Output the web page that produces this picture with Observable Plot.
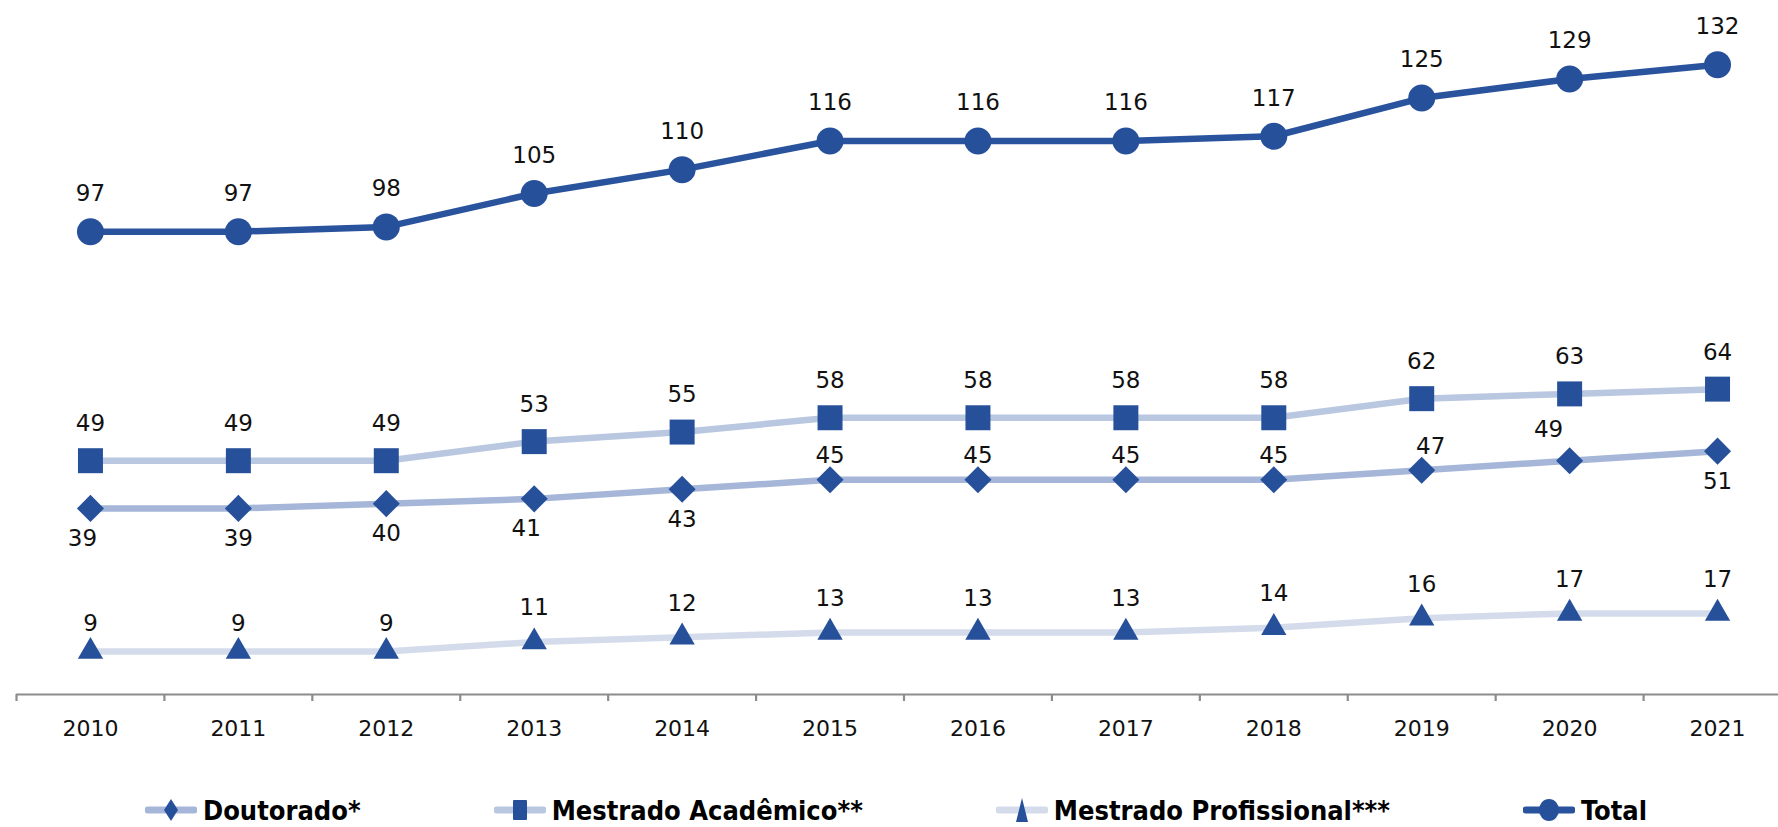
<!DOCTYPE html>
<html><head><meta charset="utf-8">
<script src="https://cdn.jsdelivr.net/npm/d3@7"></script>
<script src="https://cdn.jsdelivr.net/npm/@observablehq/plot@0.6"></script>
<style>
html,body{margin:0;padding:0;background:#fff;overflow:hidden;}
#wrap{position:relative;width:1778px;height:827px;}
#legend{position:absolute;left:145px;top:795px;height:30px;display:flex;gap:133px;align-items:center;}
.item{display:flex;align-items:center;gap:6px;font-family:"DejaVu Sans Condensed","DejaVu Sans",sans-serif;font-weight:bold;font-size:27px;line-height:1;color:#000;white-space:nowrap;}
.item svg{display:block;}
</style></head><body>
<div id="wrap"><div id="chart"></div><div id="legend"></div></div>
<script>
const years = [2010, 2011, 2012, 2013, 2014, 2015, 2016, 2017, 2018, 2019, 2020, 2021];
const doutorado = [39, 39, 40, 41, 43, 45, 45, 45, 45, 47, 49, 51];
const mestradoAcademico = [49, 49, 49, 53, 55, 58, 58, 58, 58, 62, 63, 64];
const mestradoProfissional = [9, 9, 9, 11, 12, 13, 13, 13, 14, 16, 17, 17];
const total = [97, 97, 98, 105, 110, 116, 116, 116, 117, 125, 129, 132];
const seriesNames = ["Doutorado*", "Mestrado Acadêmico**", "Mestrado Profissional***", "Total"];

const markerColor = "#27509b";
const series = [
  {name: seriesNames[0], values: doutorado, line: "#a5b6d8", symbol: "diamond2", r: 12.2},
  {name: seriesNames[1], values: mestradoAcademico, line: "#b9c7e1", symbol: "square", r: 14.1},
  {name: seriesNames[2], values: mestradoProfissional, line: "#d4dcec", symbol: "triangle", r: 9.4},
  {name: seriesNames[3], values: total, line: "#2a539d", symbol: "circle", r: 13.5}
];
const rowsOf = s => years.map((yr, i) => ({year: yr, value: s.values[i]}));
const boundaries = d3.range(2009.5, 2021.5, 1);

const font = "DejaVu Sans, Verdana, sans-serif";
const labelSize = 23;
const marks = [];

// axis baseline and boundary ticks
marks.push(Plot.ruleY([0], {x1: 2009.5, x2: 2021.5, stroke: "#8c8c8c", strokeWidth: 2.2}));
marks.push(Plot.axisX({ticks: boundaries, tickSize: 7, tickFormat: () => "", label: null, stroke: "#8c8c8c", strokeWidth: 2.2}));
marks.push(Plot.text(years, {x: d => d, y: 0, dy: 34, text: d => String(d), fontSize: 22, fill: "#111"}));

for (const s of series) {
  const rows = rowsOf(s);
  marks.push(Plot.line(rows, {x: "year", y: "value", stroke: s.line, strokeWidth: 6.5}));
  marks.push(Plot.dot(rows, {x: "year", y: "value", symbol: s.symbol, r: s.r, fill: markerColor, stroke: null}));
}

// value labels
const labelOffsets = {
  [seriesNames[0]]: yr => (yr <= 2014 || yr === 2021) ? {dx: (yr === 2010 || yr === 2013) ? -8 : 0, dy: 30}
                         : {dx: yr === 2020 ? -21 : (yr === 2019 ? 9 : 0), dy: yr === 2020 ? -31 : -24},
  [seriesNames[1]]: yr => ({dx: 0, dy: -37}),
  [seriesNames[2]]: yr => ({dx: 0, dy: yr <= 2012 ? -28 : -34}),
  [seriesNames[3]]: yr => ({dx: 0, dy: -38})
};
for (const s of series) {
  for (const r of rowsOf(s)) {
    const o = labelOffsets[s.name](r.year);
    marks.push(Plot.text([r], {x: "year", y: "value", text: d => String(d.value), dx: o.dx, dy: o.dy, fontSize: labelSize, fill: "#111"}));
  }
}

const chart = Plot.plot({
  width: 1778,
  height: 790,
  marginTop: 26,
  marginBottom: 96,
  marginLeft: 0,
  marginRight: 0,
  x: {type: "linear", domain: [2009.5, 2021.5], range: [16, 1791], axis: null},
  y: {domain: [0, 140], axis: null},
  style: {fontFamily: font, background: "#fff", overflow: "visible"},
  marks
});
document.getElementById("chart").appendChild(chart);

// legend
const sw = {
  "diamond2": '<path d="M26,4 L33,15 L26,26 L19,15 Z" fill="' + markerColor + '"/>',
  "square": '<rect x="19" y="5" width="14" height="20" rx="1" fill="' + markerColor + '"/>',
  "triangle": '<path d="M26,3 L32,27 L20,27 Z" fill="' + markerColor + '"/>',
  "circle": '<ellipse cx="26" cy="15" rx="10" ry="11" fill="' + markerColor + '"/>'
};
const legend = document.getElementById("legend");
for (const s of series) {
  const item = document.createElement("div");
  item.className = "item";
  item.innerHTML = '<svg width="52" height="30" viewBox="0 0 52 30"><line x1="3" y1="15" x2="49" y2="15" stroke="' + s.line +
    '" stroke-width="7" stroke-linecap="round"/>' + sw[s.symbol] + '</svg><span>' + s.name + '</span>';
  legend.appendChild(item);
}
</script>
</body></html>
